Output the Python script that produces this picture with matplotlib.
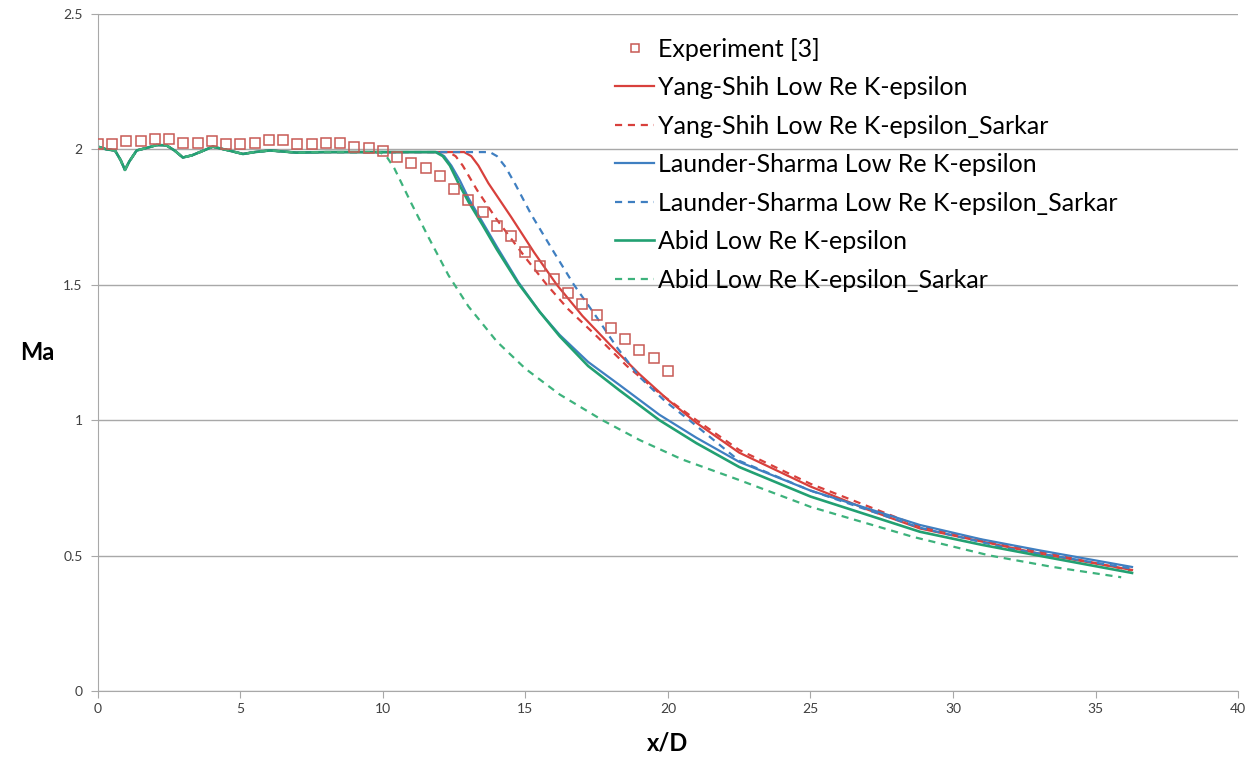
import matplotlib
matplotlib.use("Agg")
import matplotlib.pyplot as plt
import numpy as np

# experiment [3], every 0.5 D
x_exp = np.arange(0, 20.5, 0.5)
ma_exp = [2.02, 2.02, 2.03, 2.03, 2.04, 2.04, 2.025, 2.025, 2.03, 2.02,
          2.02, 2.025, 2.035, 2.035, 2.02, 2.02, 2.025, 2.025, 2.01, 2.005,
          1.995, 1.97, 1.95, 1.93, 1.90, 1.853, 1.813, 1.769, 1.717, 1.68,
          1.62, 1.57, 1.52, 1.47, 1.43, 1.39, 1.34, 1.30, 1.26, 1.23, 1.18]

# near field, same for every model (shock cells)
x_near = [0, 0.3, 0.6, 0.8, 0.95, 1.1, 1.36, 1.7, 2.06, 2.4, 2.7, 2.98,
          3.3, 3.58, 4.03, 4.63, 5.09, 5.5, 6.04, 6.97, 8.0, 9.0]
ma_near = [2.01, 2.0, 1.996, 1.96, 1.924, 1.955, 1.996, 2.005, 2.016, 2.015,
           1.995, 1.97, 1.978, 1.99, 2.01, 1.995, 1.983, 1.99, 1.996, 1.988,
           1.99, 1.99]

# decay part of each model
x_ys = [10.0, 12.3, 12.55, 12.8, 13.3, 14.0, 15.0, 15.75, 16.5, 17.5, 18.56,
        19.7, 21.0, 22.5, 25.0, 28.84, 31.0, 33.0, 36.28]
ma_ys = [1.99, 1.99, 1.975, 1.94, 1.85, 1.74, 1.60, 1.50, 1.41, 1.31, 1.20,
         1.10, 1.0, 0.89, 0.765, 0.607, 0.558, 0.515, 0.445]

x_yang = [10.0, 12.85, 13.1, 13.35, 13.7, 14.5, 15.3, 16.1, 17.0, 18.0, 19.0,
          20.0, 21.0, 22.5, 25.0, 27.0, 28.84, 31.0, 33.0, 36.28]
ma_yang = [1.99, 1.99, 1.975, 1.94, 1.875, 1.75, 1.62, 1.50, 1.385, 1.275,
           1.17, 1.075, 0.99, 0.88, 0.755, 0.67, 0.60, 0.552, 0.508, 0.447]

x_ls = [10.0, 11.9, 12.15, 12.4, 12.7, 13.0, 13.5, 14.0, 14.75, 15.5, 16.2,
        17.2, 18.3, 19.7, 21.0, 22.5, 25.0, 28.84, 31.0, 33.0, 36.28]
ma_ls = [1.99, 1.99, 1.975, 1.94, 1.885, 1.82, 1.73, 1.64, 1.51, 1.40, 1.315,
         1.215, 1.13, 1.02, 0.935, 0.846, 0.74, 0.613, 0.56, 0.52, 0.458]

x_lss = [10.0, 13.75, 14.0, 14.3, 14.65, 15.2, 16.0, 16.7, 17.5, 18.2, 19.0,
         19.9, 20.75, 22.5, 25.0, 28.84, 32.0, 36.28]
ma_lss = [1.99, 1.99, 1.975, 1.935, 1.87, 1.76, 1.62, 1.50, 1.38, 1.27, 1.16,
          1.07, 1.0, 0.85, 0.74, 0.603, 0.525, 0.452]

x_ab = [10.0, 11.85, 12.1, 12.35, 12.65, 13.0, 13.5, 14.0, 14.75, 15.5, 16.2,
        17.2, 18.3, 19.7, 21.0, 22.5, 25.0, 28.84, 31.0, 33.3, 36.28]
ma_ab = [1.99, 1.99, 1.975, 1.94, 1.875, 1.807, 1.72, 1.63, 1.505, 1.40, 1.31,
         1.20, 1.11, 1.0, 0.915, 0.827, 0.718, 0.588, 0.54, 0.494, 0.436]

x_abs = [9.5, 9.9, 10.15, 10.4, 10.7, 11.0, 11.6, 12.3, 13.0, 14.0, 15.0,
         16.2, 17.7, 19.0, 20.5, 22.5, 25.0, 28.6, 31.3, 33.5, 35.9]
ma_abs = [1.99, 1.99, 1.97, 1.93, 1.865, 1.80, 1.675, 1.535, 1.42, 1.29, 1.19,
          1.095, 1.0, 0.927, 0.855, 0.779, 0.68, 0.569, 0.50, 0.458, 0.42]

red = '#d8403c'
blue = '#3f7fc1'
green = '#22a072'
green2 = '#3db27c'

plt.rcParams['font.family'] = ['Lato', 'DejaVu Sans']

fig = plt.figure(figsize=(12.55, 7.59), dpi=100)
ax = fig.add_axes([0.078, 0.0896, 0.9085, 0.892])

dash = (0, (3.2, 2.6))
lw = 1.6

def full(xd, md):
    return list(x_near) + list(xd), list(ma_near) + list(md)

ax.plot(x_exp, ma_exp, 's', ms=7, mfc='none', mec='#c85a55', mew=1.1,
        label='Experiment [3]', zorder=5)
xx, yy = full(x_yang, ma_yang)
ax.plot(xx, yy, color=red, lw=lw, label='Yang-Shih Low Re K-epsilon')
xx, yy = full(x_ys, ma_ys)
ax.plot(xx, yy, color=red, lw=lw, ls=dash, label='Yang-Shih Low Re K-epsilon_Sarkar')
xx, yy = full(x_ls, ma_ls)
ax.plot(xx, yy, color=blue, lw=lw, label='Launder-Sharma Low Re K-epsilon')
xx, yy = full(x_lss, ma_lss)
ax.plot(xx, yy, color=blue, lw=lw, ls=dash, label='Launder-Sharma Low Re K-epsilon_Sarkar')
xx, yy = full(x_ab, ma_ab)
ax.plot(xx, yy, color=green, lw=lw + 0.3, label='Abid Low Re K-epsilon')
xx, yy = full(x_abs, ma_abs)
ax.plot(xx, yy, color=green2, lw=lw, ls=dash, label='Abid Low Re K-epsilon_Sarkar')

ax.set_xlim(0, 40)
ax.set_ylim(0, 2.5)
ax.set_xticks(np.arange(0, 45, 5))
ax.set_yticks([0, 0.5, 1, 1.5, 2, 2.5])
ax.set_yticklabels(['0', '0.5', '1', '1.5', '2', '2.5'])
ax.grid(axis='y', color='#a8a8a8', lw=1.0)
ax.set_axisbelow(True)
for s in ['top', 'right']:
    ax.spines[s].set_visible(False)
for s in ['left', 'bottom']:
    ax.spines[s].set_color('#a8a8a8')
ax.tick_params(axis='both', colors='#a8a8a8', labelcolor='#404040',
               labelsize=10, length=5)
ax.tick_params(axis='y', pad=6)

ax.set_xlabel('x/D', fontsize=17, fontweight='bold', labelpad=12)
ax.set_ylabel('Ma', fontsize=17, fontweight='bold', rotation=0,
              va='center', ha='center')
ax.yaxis.set_label_coords(-0.0535, 0.50)

leg = ax.legend(loc='upper left', bbox_to_anchor=(0.445, 0.98), frameon=False,
                fontsize=18, handlelength=1.55, handletextpad=0.15,
                labelspacing=0.62, borderaxespad=0, markerscale=0.75)

fig.savefig('out.png', dpi=100)
